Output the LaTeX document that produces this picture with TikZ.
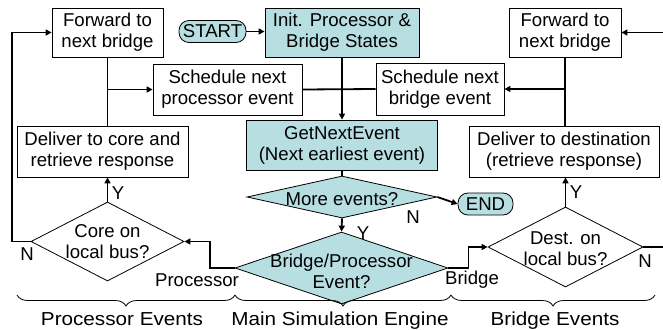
\documentclass[tikz,border=0pt]{standalone}
\usepackage{fontspec}
\setmainfont{Liberation Sans}
\newfontfamily\widefont[FakeStretch=1.1]{Liberation Sans}
\usetikzlibrary{arrows.meta,shapes.geometric,decorations.pathreplacing}
\definecolor{tealfill}{RGB}{183,223,226}
\begin{document}
\begin{tikzpicture}[x=1pt,y=-1pt,
  every node/.style={font=\fontsize{18.6}{21}\selectfont},
  box/.style={draw, line width=0.8pt, inner sep=0pt, align=center, fill=white},
  tbox/.style={box, fill=tealfill},
  dia/.style={diamond, draw, line width=0.8pt, inner sep=0pt, aspect=1},
  pill/.style={draw, line width=0.8pt, fill=tealfill, rounded corners=10pt, inner sep=0pt, minimum height=22pt},
  conn/.style={line width=1.8pt},
  arr/.style={conn, -{Triangle[length=6pt,width=6pt]}},
  lbl/.style={inner sep=0pt},
  grp/.style={inner sep=0pt, anchor=base, font=\widefont\fontsize{18.8}{21}\selectfont},
  br/.style={decorate, decoration={brace, mirror, amplitude=11pt}, line width=0.8pt}
]
\useasboundingbox (0,0) rectangle (663,329);

% boxes
\node[box, minimum width=111pt, minimum height=49pt] (fwdL) at (107.5,32.5) {Forward to\\next bridge};
\node[pill, minimum width=67pt] (start) at (212.5,31.5) {START};
\node[tbox, minimum width=154pt, minimum height=49pt] (init) at (342,32.5) {Init. Processor \&\\Bridge States};
\node[box, minimum width=112pt, minimum height=49pt] (fwdR) at (565,32.5) {Forward to\\next bridge};
\node[box, minimum width=149pt, minimum height=51pt] (schedP) at (227.5,89.5) {Schedule next\\processor event};
\node[box, minimum width=128pt, minimum height=52pt] (schedB) at (440,89) {Schedule next\\bridge event};
\node[box, minimum width=171pt, minimum height=51pt] (delL) at (102.5,151.5) {Deliver to core and\\retrieve response};
\node[box, minimum width=190pt, minimum height=51pt] (delR) at (564,151.5) {Deliver to destination\\(retrieve response)};
\node[tbox, minimum width=191pt, minimum height=50pt] (next) at (342,145) {GetNextEvent\\(Next earliest event)};

% decisions
\node[dia, fill=tealfill, minimum width=190pt, minimum height=42pt] (more) at (342,197) {};
\node[lbl] (moreT) at (342,199) {More events?};
\node[pill, minimum width=55pt] (end) at (485.5,204) {END};
\node[dia, fill=tealfill, minimum width=213pt, minimum height=72pt] (bp) at (341.5,268) {};
\node[lbl, align=center] (bpT) at (341.5,271) {Bridge/Processor\\Event?};
\node[dia, fill=white, minimum width=153pt, minimum height=79pt] (core) at (107.5,241.5) {};
\node[lbl, align=center] (coreT) at (107.5,242) {Core on\\local bus?};
\node[dia, fill=white, minimum width=155pt, minimum height=80pt] (dest) at (565.5,247) {};
\node[lbl, align=center] (destT) at (565.5,249) {Dest. on\\local bus?};

% free ends at the right border
\coordinate (edgeR1) at (663,32.5);
\coordinate (edgeR2) at (663,247);

% connectors
\draw[arr] (start.east) -- (start.east -| init.west);
\draw[arr] (init.south) -- (init.south |- next.north);
\draw[conn] (schedP.east) -- (schedB.west);
\draw[conn] (next.south) -- (more.north);
\draw[arr] (more.east) -- (end.west);
\draw[arr] (more.south) -- (bp.north);
\draw[arr] (bp.west) -- ++(-25,0) |- (core.east);
\draw[arr] (bp.east) -- ++(20,0) |- (dest.west);
\draw[arr] (core.north) -- (core.north |- delL.south);
\draw[arr] (dest.north) -- (dest.north |- delR.south);
\draw[arr] (core.west) -- ++(-19,0) |- (fwdL.west);
\draw[conn] (dest.east) -- (edgeR2);
\draw[arr] (edgeR1) -- (fwdR.east);
\draw[conn] (fwdL.south) -- (fwdL.south |- delL.north);
\draw[arr] (fwdL.south |- schedP.west) -- (schedP.west);
\draw[conn] (fwdR.south) -- (fwdR.south |- delR.north);
\draw[arr] (fwdR.south |- schedB.east) -- (schedB.east);

% connector labels
\node[lbl] (lY1) at (118,193) {Y};
\node[lbl] (lN1) at (27,254) {N};
\node[lbl] (lProc) at (197,280) {Processor};
\node[lbl] (lBr) at (472,280) {Bridge};
\node[lbl] (lY2) at (576,192) {Y};
\node[lbl] (lN2) at (645,261) {N};
\node[lbl] (lN3) at (413,217) {N};
\node[lbl] (lY3) at (363,233) {Y};

% braces
\coordinate (b0) at (17,295);
\coordinate (b1) at (235,295);
\coordinate (b2) at (451,295);
\coordinate (b3) at (655,295);
\draw[br] (b0) -- (b1);
\draw[br] (b1) -- (b2);
\draw[br] (b2) -- (b3);
\node[grp] (gP) at (122,325) {Processor Events};
\node[grp] (gM) at (340,325) {Main Simulation Engine};
\node[grp] (gB) at (555,325) {Bridge Events};
\end{tikzpicture}
\end{document}
